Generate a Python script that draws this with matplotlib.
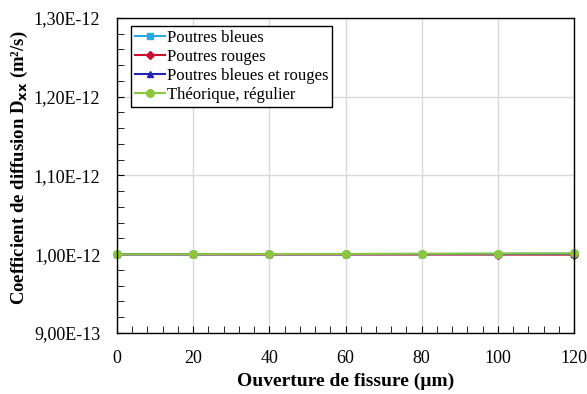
import numpy as np
import matplotlib.pyplot as plt
from matplotlib.ticker import FuncFormatter, MultipleLocator

plt.rcParams['font.family'] = ['Liberation Serif', 'DejaVu Serif']

ouverture = [0, 20, 40, 60, 80, 100, 120]
bleues = [1.0000e-12, 1.0001e-12, 1.0002e-12, 1.0002e-12, 1.0004e-12, 1.0006e-12, 1.0008e-12]
rouges = [1.0000e-12, 0.9999e-12, 0.9998e-12, 0.9998e-12, 0.9997e-12, 0.9996e-12, 0.9995e-12]
bleues_rouges = [1.0000e-12, 1.0000e-12, 1.0001e-12, 1.0001e-12, 1.0002e-12, 1.0003e-12, 1.0004e-12]
theorique = [1.0000e-12, 1.0001e-12, 1.0003e-12, 1.0004e-12, 1.0006e-12, 1.0008e-12, 1.0010e-12]

fig = plt.figure(figsize=(5.87, 3.94), dpi=100)
ax = fig.add_axes([117/587, 1-333/394, (574-117)/587, (333-18)/394])

ax.plot(ouverture, bleues, color='#29A9E0', marker='s', ms=5, lw=1.5, label='Poutres bleues', clip_on=False)
ax.plot(ouverture, rouges, color='#C8102E', marker='D', ms=4, lw=1.5, label='Poutres rouges', clip_on=False)
ax.plot(ouverture, bleues_rouges, color='#2424B4', marker='^', ms=5, lw=1.5, label='Poutres bleues et rouges', clip_on=False)
ax.plot(ouverture, theorique, color='#8CC63F', marker='o', ms=5.5, lw=1.5, label='Théorique, régulier', clip_on=False)

ax.set_xlim(0, 120)
ax.set_ylim(9e-13, 1.3e-12)
ax.xaxis.set_major_locator(MultipleLocator(20))
ax.xaxis.set_minor_locator(MultipleLocator(4))
ax.yaxis.set_major_locator(MultipleLocator(1e-13))
ax.yaxis.set_minor_locator(MultipleLocator(2e-14))
ax.yaxis.set_major_formatter(FuncFormatter(lambda v, p: ('%.2E' % v).replace('.', ',').replace('E-0', 'E-')))
ax.tick_params(which='both', direction='in', labelsize=13, length=5, pad=12)
ax.tick_params(which='minor', length=5)
ax.grid(True, which='major', color='#d9d9d9', lw=1)
ax.set_axisbelow(True)
for s in ax.spines.values():
    s.set_linewidth(1)

ax.set_xlabel('Ouverture de fissure (µm)', fontsize=14, fontweight='bold', labelpad=4)
ax.set_ylabel('Coefficient de diffusion D$_{\\mathbf{xx}}$ (m²/s)', fontsize=13.5, fontweight='bold')
ax.yaxis.set_label_coords(-0.19, 0.525)

leg = ax.legend(loc='upper left', bbox_to_anchor=(0.03, 0.975), fontsize=12, fancybox=False,
                edgecolor='black', framealpha=1, borderpad=0.25, labelspacing=0.18,
                handlelength=1.8, handletextpad=0.1, borderaxespad=0)
leg.get_frame().set_linewidth(1)

fig.savefig('out.png', dpi=100)
